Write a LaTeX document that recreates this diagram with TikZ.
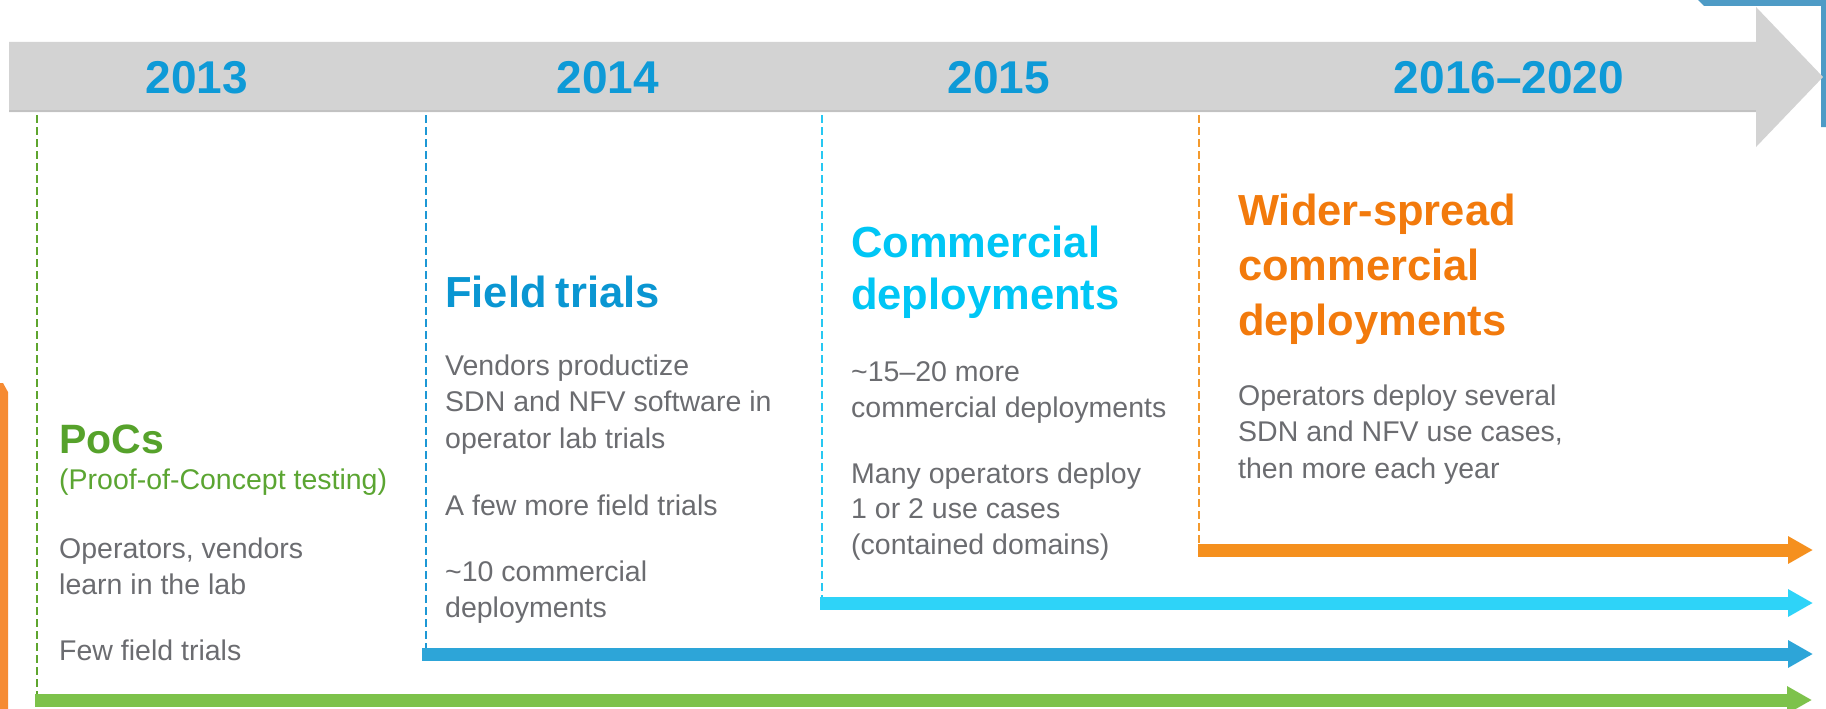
\documentclass[tikz,border=0pt]{standalone}
\usepackage{fontspec}
\setmainfont{Liberation Sans}
\usetikzlibrary{arrows.meta}
\definecolor{bargrey}{HTML}{D3D3D3}
\definecolor{bargreyd}{HTML}{C2C2C2}
\definecolor{yearblue}{HTML}{0E9AD7}
\definecolor{bodygray}{HTML}{6B6C70}
\definecolor{pocgreen}{HTML}{56A22B}
\definecolor{pocgreenl}{HTML}{5BA532}
\definecolor{greendash}{HTML}{5EA52E}
\definecolor{greenarrow}{HTML}{7DC24B}
\definecolor{fieldblue}{HTML}{0A96D2}
\definecolor{bluedash}{HTML}{1D98D5}
\definecolor{bluearrow}{HTML}{2DA5D8}
\definecolor{comcyan}{HTML}{00C6F5}
\definecolor{cyandash}{HTML}{27C8F2}
\definecolor{cyanarrow}{HTML}{2ED3F8}
\definecolor{wideorange}{HTML}{F27A0C}
\definecolor{orangedash}{HTML}{F39A2E}
\definecolor{orangearrow}{HTML}{F5901E}
\definecolor{frameblue}{HTML}{4E9BC6}
\definecolor{sideorange}{HTML}{F68B33}
\begin{document}
\begin{tikzpicture}[x=1pt,y=-1pt,
  yearlabel/.style={font=\fontsize{46}{50}\selectfont\bfseries, text=yearblue, anchor=base, inner sep=0pt},
  headtext/.style={font=\fontsize{43.5}{53}\selectfont\bfseries, anchor=base west, inner sep=0pt, align=left},
  bodytext/.style={font=\fontsize{28.5}{36}\selectfont, text=bodygray, anchor=base west, inner sep=0pt, align=left},
  guide/.style={dash pattern=on 8pt off 4pt, line width=2pt},
  phasebar/.style={line width=13pt, -{Triangle[length=25pt,width=26pt]}}
]
\useasboundingbox (0,0) rectangle (1826,709);

% decorative frame pieces
\fill[frameblue] (1698,0) -- (1826,0) -- (1826,127) -- (1821,127) -- (1821,6) -- (1704,6) -- cycle;
\fill[sideorange] (0,383) -- (3,383) -- (8,392) -- (8,709) -- (0,709) -- cycle;

% big grey timeline arrow
\fill[bargrey] (9,42) -- (1756,42) -- (1756,7) -- (1823,77) -- (1756,147) -- (1756,112) -- (9,112) -- cycle;
\draw[bargreyd, line width=2pt] (9,111) -- (1756,111);

% year labels
\node[yearlabel] (y13) at (197,93) {2013};
\node[yearlabel] (y14) at (608,93) {2014};
\node[yearlabel] (y15) at (999,93) {2015};
\node[yearlabel] (y16) at (1509,93) {2016–2020};

% guide lines
\coordinate (g0) at (37,115);  \coordinate (g1) at (37,694);
\coordinate (b0) at (426,115); \coordinate (b1) at (426,648);
\coordinate (c0) at (822,115); \coordinate (c1) at (822,597);
\coordinate (o0) at (1199,115); \coordinate (o1) at (1199,543);
\draw[guide, greendash] (g0) -- (g1);
\draw[guide, bluedash] (b0) -- (b1);
\draw[guide, cyandash] (c0) -- (c1);
\draw[guide, orangedash] (o0) -- (o1);

% phase arrows
\coordinate (ga0) at (35,700);   \coordinate (ga1) at (1812,700);
\coordinate (ba0) at (422,654);  \coordinate (ba1) at (1813,654);
\coordinate (ca0) at (820,603);  \coordinate (ca1) at (1813,603);
\coordinate (oa0) at (1198,550); \coordinate (oa1) at (1813,550);
\draw[phasebar, greenarrow] (ga0) -- (ga1);
\draw[phasebar, bluearrow] (ba0) -- (ba1);
\draw[phasebar, cyanarrow] (ca0) -- (ca1);
\draw[phasebar, orangearrow] (oa0) -- (oa1);

% 2013 (multi-line nodes are anchored at the baseline of their last line)
\node[headtext, text=pocgreen, font=\fontsize{41}{50}\selectfont\bfseries] (pocH) at (59,453) {PoCs};
\node[bodytext, text=pocgreenl] (pocS) at (59,489) {(Proof-of-Concept testing)};
\node[bodytext] (pocA) at (59,594) {Operators, vendors\\learn in the lab};
\node[bodytext] (pocB) at (59,660) {Few field trials};

% 2014
\node[headtext, text=fieldblue] (ftH) at (445,307) {Field\hspace{-3pt} trials};
\node[bodytext, font=\fontsize{28.5}{36.5}\selectfont] (ftA) at (445,448) {Vendors productize\\SDN and NFV software in\\operator lab trials};
\node[bodytext] (ftB) at (445,515) {A few more field trials};
\node[bodytext, font=\fontsize{28.5}{35.5}\selectfont] (ftC) at (445,617) {\textasciitilde10 commercial\\deployments};

% 2015
\node[headtext, text=comcyan, font=\fontsize{43.5}{52}\selectfont\bfseries] (cdH) at (851,309) {Commercial\\deployments};
\node[bodytext] (cdA) at (851,417) {\textasciitilde15–20 more\\commercial deployments};
\node[bodytext, font=\fontsize{28.5}{35.5}\selectfont] (cdB) at (851,554) {Many operators deploy\\1 or 2 use cases\\(contained domains)};

% 2016-2020
\node[headtext, text=wideorange, font=\fontsize{43.5}{55}\selectfont\bfseries] (wsH) at (1238,335) {Wider-spread\\commercial\\deployments};
\node[bodytext, font=\fontsize{28.5}{36.5}\selectfont] (wsA) at (1238,478) {Operators deploy several\\SDN and NFV use cases,\\then more each year};
\end{tikzpicture}
\end{document}
